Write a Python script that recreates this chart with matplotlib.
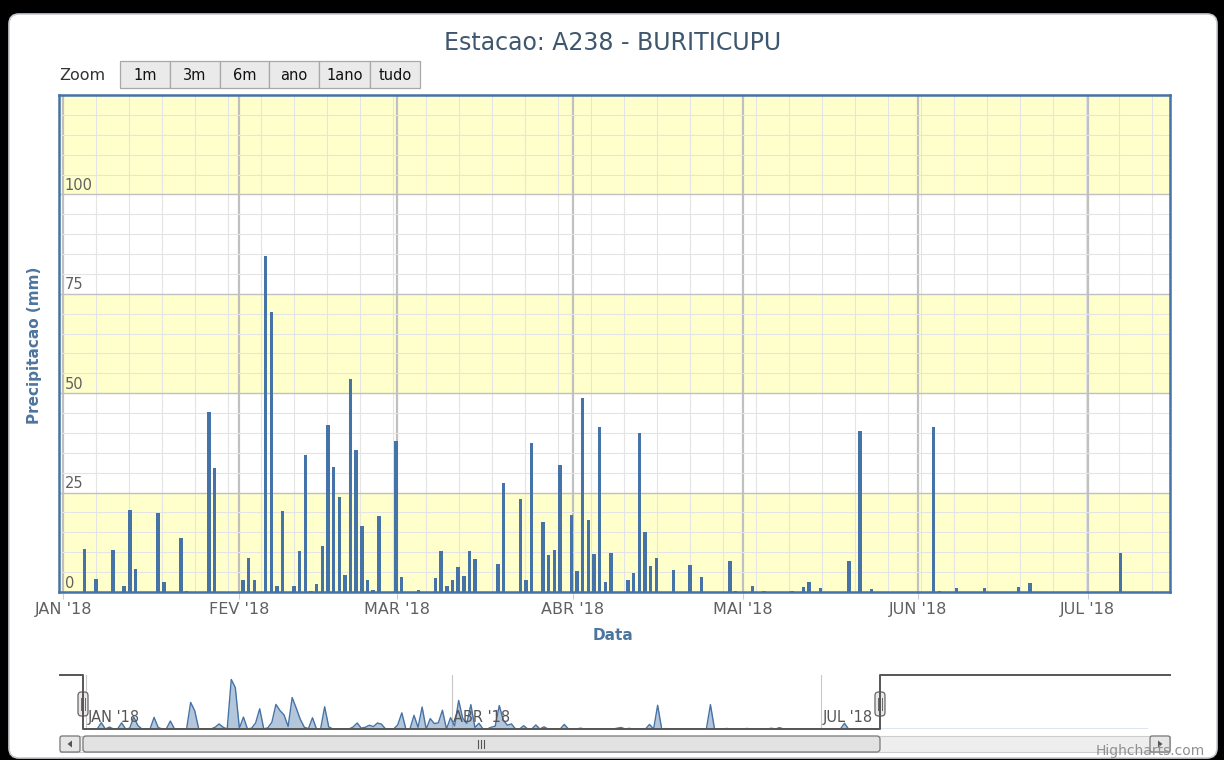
import numpy as np
import matplotlib
matplotlib.use('Agg')
import matplotlib.pyplot as plt
from matplotlib.patches import FancyBboxPatch, Rectangle, Polygon

# Daily rain at station A238 (Buriticupu), only the days with rain
dates = [
    '2018-01-04', '2018-01-06', '2018-01-09', '2018-01-11', '2018-01-12', '2018-01-13',
    '2018-01-17', '2018-01-18', '2018-01-21', '2018-01-22', '2018-01-26', '2018-01-27',
    '2018-02-01', '2018-02-02', '2018-02-03', '2018-02-05', '2018-02-06', '2018-02-07',
    '2018-02-08', '2018-02-10', '2018-02-11', '2018-02-12', '2018-02-13', '2018-02-14',
    '2018-02-15', '2018-02-16', '2018-02-17', '2018-02-18', '2018-02-19', '2018-02-20',
    '2018-02-21', '2018-02-22', '2018-02-23', '2018-02-24', '2018-02-25', '2018-02-28',
    '2018-03-01', '2018-03-04', '2018-03-07', '2018-03-08', '2018-03-09', '2018-03-10',
    '2018-03-11', '2018-03-12', '2018-03-13', '2018-03-14', '2018-03-18', '2018-03-19',
    '2018-03-22', '2018-03-23', '2018-03-24', '2018-03-26', '2018-03-27', '2018-03-28',
    '2018-03-29', '2018-03-31', '2018-04-01', '2018-04-02', '2018-04-03', '2018-04-04',
    '2018-04-05', '2018-04-06', '2018-04-07', '2018-04-10', '2018-04-11', '2018-04-12',
    '2018-04-13', '2018-04-14', '2018-04-15', '2018-04-18', '2018-04-21', '2018-04-23',
    '2018-04-28', '2018-04-29', '2018-05-02', '2018-05-04', '2018-05-09', '2018-05-11',
    '2018-05-12', '2018-05-14', '2018-05-19', '2018-05-21', '2018-05-23', '2018-06-03',
    '2018-06-04', '2018-06-07', '2018-06-12', '2018-06-18', '2018-06-20', '2018-07-06',
]
precip = [
    10.8, 3.3, 10.5, 1.4, 20.6, 5.9,
    19.8, 2.6, 13.6, 0.3, 45.3, 31.1,
    2.9, 8.6, 2.9, 84.4, 70.5, 1.4,
    20.3, 1.4, 10.4, 34.4, 0.3, 1.9,
    11.5, 41.9, 31.4, 24.0, 4.4, 53.6,
    35.6, 16.5, 2.9, 0.6, 19.1, 37.9,
    3.7, 0.6, 3.4, 10.2, 1.5, 2.9,
    6.4, 4.1, 10.2, 8.2, 7.1, 27.5,
    23.3, 2.9, 37.4, 17.7, 9.3, 10.5,
    32.0, 19.3, 5.3, 48.7, 18.0, 9.5,
    41.5, 2.6, 9.8, 3.0, 4.9, 40.0,
    15.0, 6.5, 8.6, 5.6, 6.8, 3.7,
    7.8, 0.3, 1.4, 0.3, 0.3, 1.3,
    2.6, 1.1, 7.8, 40.4, 0.7, 41.5,
    0.3, 0.9, 0.9, 1.3, 2.3, 9.8,
]

month_starts = ['2018-01-01', '2018-02-01', '2018-03-01', '2018-04-01',
                '2018-05-01', '2018-06-01', '2018-07-01']
month_labels = ["JAN '18", "FEV '18", "MAR '18", "ABR '18", "MAI '18", "JUN '18", "JUL '18"]
nav_starts = ['2018-01-01', '2018-04-01', '2018-07-01']
nav_labels = ["JAN '18", "ABR '18", "JUL '18"]
y_ticks = [0, 25, 50, 75, 100]
zoom_buttons = ['1m', '3m', '6m', 'ano', '1ano', 'tudo']

start = np.datetime64('2018-01-01')
def to_days(d):
    return (np.array(d, dtype='datetime64[D]') - start).astype(float)

days = to_days(dates)
month_days = to_days(month_starts)
nav_days_ticks = to_days(nav_starts)

shift = 0.75            # time of day of the readings
view_min, view_max = -0.76, 195.5
nav_max = 261.5

W, H = 1224, 760
fig = plt.figure(figsize=(W / 100, H / 100), dpi=100, facecolor='black')

def rect(l, t, r, b):
    return [l / W, 1 - b / H, (r - l) / W, (b - t) / H]

# background container
bg = fig.add_axes([0, 0, 1, 1], zorder=0)
bg.set_xlim(0, W); bg.set_ylim(H, 0); bg.axis('off')
bg.add_patch(FancyBboxPatch((9, 14), 1208, 744, boxstyle='round,pad=0,rounding_size=10',
                            fc='white', ec='#C8CDD2', lw=1.2))

# main chart
ax = fig.add_axes(rect(59, 95, 1170, 592), zorder=1)
ax.set_xlim(view_min, view_max)
ax.set_ylim(0, 125)
for lo in (0, 50, 100):
    ax.axhspan(lo, lo + 25, color='#FFFFCC', lw=0, zorder=0)
ax.set_axisbelow(True)
ax.set_yticks(y_ticks)
ax.set_yticks(np.arange(0, 126, 5), minor=True)
ax.set_xticks(month_days)
ax.set_xticklabels(month_labels)
ax.set_xticks(np.arange(0, view_max, 5.83), minor=True)
ax.tick_params(axis='y', which='both', length=0, labelleft=False)
ax.tick_params(axis='x', which='major', length=5, color='#C0D0E0', labelsize=11.5,
               labelcolor='#606060', pad=2)
ax.tick_params(axis='x', which='minor', length=0)
ax.grid(which='minor', color='#E4E4E4', lw=0.8)
ax.grid(which='major', axis='y', color='#C0C0C0', lw=1.0)
ax.grid(which='major', axis='x', color='#C0C0C0', lw=1.6)

ax.bar(days + shift, precip, width=0.62, color='#4572A7', zorder=3)

for s in ax.spines.values():
    s.set_color('#4572A7')
    s.set_linewidth(1.8)

for v in y_ticks:
    ax.annotate(str(v), xy=(0, v), xycoords=ax.get_yaxis_transform(), xytext=(4, 1),
                textcoords='offset points', ha='left', va='bottom', fontsize=10.5,
                color='#606060', zorder=4)

fig.text(613 / W, 1 - 43 / H, 'Estacao: A238 - BURITICUPU', ha='center', va='center',
         fontsize=17, color='#3E576F')
fig.text(613 / W, 1 - 636 / H, 'Data', ha='center', va='center', fontsize=11,
         fontweight='bold', color='#4D759E')
fig.text(35 / W, 1 - 345 / H, 'Precipitacao (mm)', ha='center', va='center', rotation=90,
         fontsize=11, fontweight='bold', color='#4D759E')

# navigator
nav = fig.add_axes(rect(83, 675, 1148, 729), zorder=1)
nav_x = np.arange(0, int(nav_max) + 1)
nav_vals = np.zeros(len(nav_x))
nav_vals[days.astype(int)] = precip
nav.set_xlim(view_min, nav_max)
nav.set_ylim(0, 92)
nav.axis('off')
for d, lab in zip(nav_days_ticks, nav_labels):
    nav.axvline(d, color='#C8C8C8', lw=0.8, zorder=0)
    nav.text(d + 0.4, 0.08, lab, transform=nav.get_xaxis_transform(), ha='left',
             va='bottom', fontsize=10.5, color='#555555', zorder=3)
nav.fill_between(nav_x + shift, nav_vals, color='#4572A7', alpha=0.4, lw=0, zorder=1)
nav.plot(nav_x + shift, nav_vals, color='#4572A7', lw=1, zorder=2)
nav.axvspan(view_max, nav_max, color='white', alpha=0.75, lw=0, zorder=4)

# navigator outline, handles and scrollbar
fg = fig.add_axes([0, 0, 1, 1], zorder=2)
fg.set_xlim(0, W); fg.set_ylim(H, 0); fg.axis('off')

def nav_px(d):
    return 83 + (d - view_min) / (nav_max - view_min) * (1148 - 83)

h0, h1 = nav_px(view_min), nav_px(view_max)
fg.plot([60, h0, h0, h1, h1, 1170], [675, 675, 729, 729, 675, 675], color='#555555', lw=1.4)

# scrollbar
fg.add_patch(Rectangle((60, 736), 1110, 16, fc='#EEEEEE', ec='#CCCCCC', lw=0.8))
fg.add_patch(FancyBboxPatch((h0, 736), h1 - h0, 16, boxstyle='round,pad=0,rounding_size=3',
                            fc='#E2E2E2', ec='#777777', lw=0.9))
mid = (h0 + h1) / 2
for dx in (-3, 0, 3):
    fg.plot([mid + dx, mid + dx], [740, 748], color='#555555', lw=0.8)
for bx in (60, 1150):
    fg.add_patch(FancyBboxPatch((bx, 736), 20, 16, boxstyle='round,pad=0,rounding_size=2',
                                fc='#E6E6E6', ec='#777777', lw=0.9))
fg.add_patch(Polygon([[72, 740.5], [72, 747.5], [67.5, 744]], closed=True, fc='#555555', lw=0))
fg.add_patch(Polygon([[1158, 740.5], [1158, 747.5], [1162.5, 744]], closed=True, fc='#555555', lw=0))

for hx in (h0, h1):
    fg.add_patch(FancyBboxPatch((hx - 5, 692), 10, 24, boxstyle='round,pad=0,rounding_size=3.5',
                                fc='#EBE7E8', ec='#666666', lw=0.9))
    for dx in (-1.6, 1.6):
        fg.plot([hx + dx, hx + dx], [698, 710], color='#666666', lw=0.7)

fg.text(1205, 751, 'Highcharts.com', ha='right', va='center', fontsize=10, color='#909090')

# zoom buttons
fg.text(59, 75, 'Zoom', ha='left', va='center', fontsize=11.5, color='#333333')
edges = [120, 170, 220, 269, 319, 370, 420]
for lab, l, r in zip(zoom_buttons, edges[:-1], edges[1:]):
    fg.add_patch(Rectangle((l, 61), r - l, 27, fc='#EAEAEA', ec='#A8A8A8', lw=0.9))
    fg.text((l + r) / 2, 75, lab, ha='center', va='center', fontsize=10.5, color='#111111')

fig.savefig('out.png', dpi=100, facecolor='black')
